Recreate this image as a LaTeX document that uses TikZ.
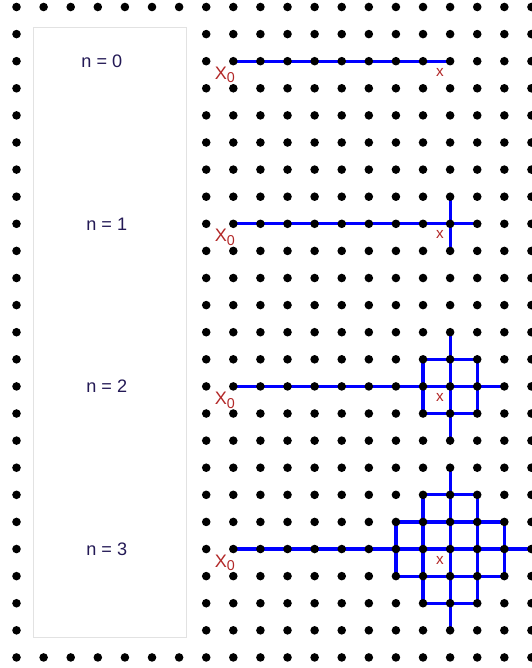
\documentclass[tikz,border=0pt]{standalone}
\usepackage{fontspec}
\setmainfont{Liberation Sans}
\usepackage{tikz}
\usetikzlibrary{backgrounds}
\definecolor{azul}{RGB}{0,0,255}
\definecolor{rojo}{RGB}{178,40,40}
\definecolor{tinta}{RGB}{35,25,85}
\definecolor{borde}{RGB}{226,226,226}
\newcommand{\sub}[1]{\raisebox{-1.8pt}{\fontsize{7.5}{8}\selectfont #1}}
\tikzset{
  dot/.style={circle, fill=black, inner sep=0pt, minimum size=4.5pt},
  paso/.style={azul, line width=1.7pt},
  panel/.style={draw=borde, fill=white, line width=0.5pt, minimum width=2.84cm, minimum height=11.24cm},
  etq/.style={text=tinta, font=\fontsize{9.5}{11}\selectfont},
  ori/.style={text=rojo, inner sep=0pt, anchor=north east, font=\fontsize{9.5}{11}\selectfont},
  cen/.style={text=rojo, inner sep=0pt, anchor=north east, font=\fontsize{8}{9}\selectfont},
}

\begin{document}
\begin{tikzpicture}[x=0.5cm, y=-0.5cm]
  \useasboundingbox (-0.609,-0.258) rectangle (19.02,24.39);
  % lattice
  \foreach \i in {0,...,19}
    \foreach \j in {0,...,24}
      \node[dot] (d-\i-\j) at (\i,\j) {};
  % walks, under the dots
  \begin{scope}[on background layer]
    \foreach \n in {0,...,3} {
      \pgfmathtruncatemacro\rr{2+6*\n}
      \draw[paso] (d-8-\rr.center) -- (d-16-\rr.center);
      \ifnum\n>0
        \foreach \k in {-\n,...,\n} {
          \pgfmathtruncatemacro\ww{\n-abs(\k)}
          \pgfmathtruncatemacro\xa{16-\ww}
          \pgfmathtruncatemacro\xb{16+\ww}
          \pgfmathtruncatemacro\yy{\rr+\k}
          \pgfmathtruncatemacro\xx{16+\k}
          \pgfmathtruncatemacro\ya{\rr-\ww}
          \pgfmathtruncatemacro\yb{\rr+\ww}
          \ifnum\ww>0
            \draw[paso] (d-\xa-\yy.center) -- (d-\xb-\yy.center);
            \draw[paso] (d-\xx-\ya.center) -- (d-\xx-\yb.center);
          \fi
        }
      \fi
    }
  \end{scope}
  % text box
  \node[panel] (box) at (3.45,12.01) {};
  \foreach \n/\lx in {0/3.15,1/3.33,2/3.33,3/3.33} {
    \pgfmathtruncatemacro\rr{2+6*\n}
    \node[etq] (lab-\n) at (\lx,\rr) {n = \n};
    \node[ori, xshift=1pt, yshift=-2.8pt] (x0-\n) at (d-8-\rr.center) {X\sub{0}};
    \node[cen, xshift=-3.1pt, yshift=-3.5pt] (xc-\n) at (d-16-\rr.center) {x};
  }
\end{tikzpicture}
\end{document}
